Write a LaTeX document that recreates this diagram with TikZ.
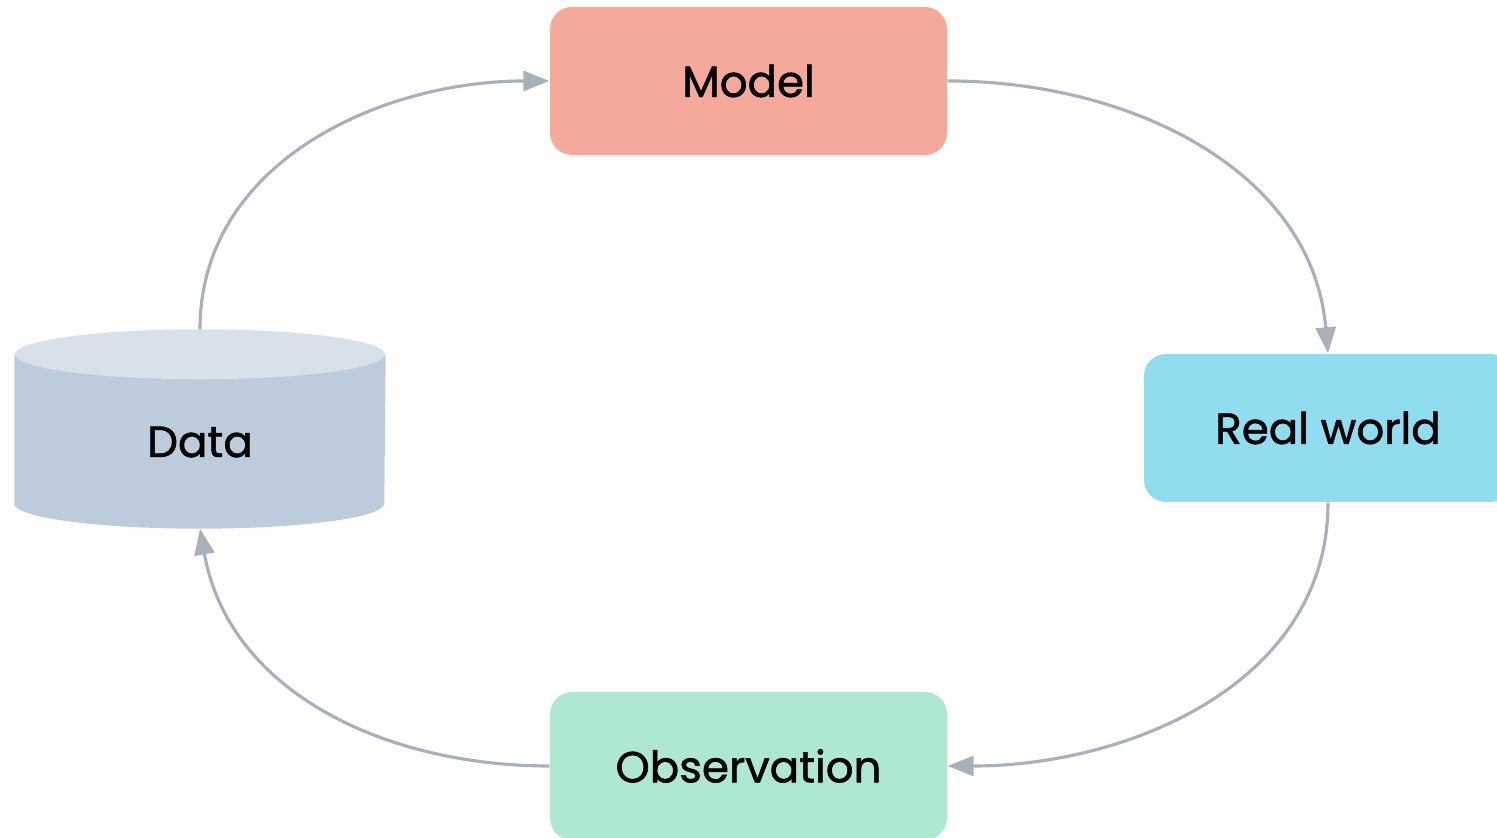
\documentclass[tikz,border=0pt]{standalone}
\usepackage{fontspec}
\setmainfont{Poppins}[FakeBold=1.2]
\usepackage{xcolor}
\definecolor{r1}{HTML}{F4A99B}
\definecolor{b1}{HTML}{90DDF0}
\definecolor{g1}{HTML}{AFE8D1}
\definecolor{d1}{HTML}{BDCCDD}
\definecolor{d2}{HTML}{D8E1EA}
\definecolor{a1}{HTML}{A8B0BC}
\usetikzlibrary{arrows.meta,backgrounds}
\tikzset{
  box/.style={rounded corners=0.22cm,minimum width=3.97cm,minimum height=1.48cm,
    inner sep=0pt,font=\fontsize{12.4}{15}\selectfont},
  flow/.style={draw=a1,line width=0.9pt,-{Triangle[length=0.26cm,width=0.2cm]}}
}
\begin{document}
\begin{tikzpicture}
  \clip (0,0) rectangle (14.97,8.38);
  \node[box,fill=r1] (model) at (7.485,7.57) {Model};
  \node[box,fill=b1,minimum width=3.68cm] (real) at (13.28,4.10) {Real world};
  \node[box,fill=g1] (obs) at (7.485,0.72) {Observation};
  \node[box,minimum width=3.7cm,minimum height=1.98cm,text height=0.56cm,text depth=0cm] (data) at (2.0,4.09) {Data};

  % cylinder behind the data node
  \begin{scope}[on background layer]
    \fill[d1] ([yshift=-0.25cm]data.north west) -- ([yshift=0.25cm]data.south west)
      arc[start angle=180,end angle=360,x radius=1.85cm,y radius=0.25cm]
      -- ([yshift=-0.25cm]data.north east) -- cycle;
    \fill[d2] ([yshift=-0.25cm]data.north) ellipse[x radius=1.85cm,y radius=0.25cm];
  \end{scope}

  \draw[flow] (data.north) to[out=90,in=180] (model.west);
  \draw[flow] (model.east) to[out=0,in=95] (real.north);
  \draw[flow] (real.south) to[out=-90,in=0] (obs.east);
  \draw[flow] (obs.west) to[out=180,in=-80] (data.south);
\end{tikzpicture}
\end{document}
